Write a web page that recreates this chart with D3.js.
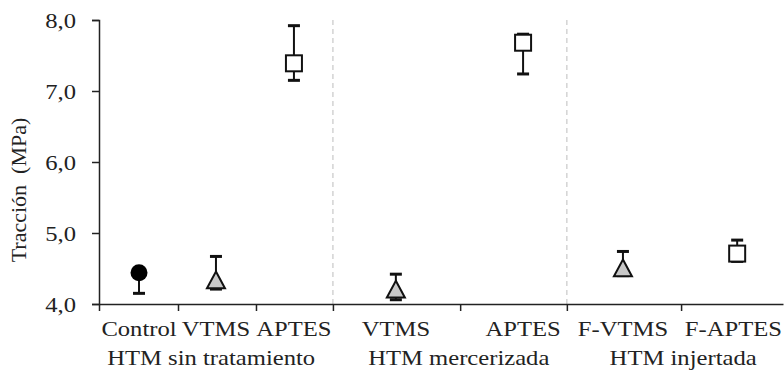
<!DOCTYPE html>
<html><head><meta charset="utf-8">
<script src="https://cdn.jsdelivr.net/npm/d3@7"></script>
<style>body{margin:0;background:#fff}svg{display:block}</style>
</head><body><svg id="c" width="784" height="376"></svg>
<script>
// Data
const categories = ["Control","VTMS","APTES","VTMS","APTES","F-VTMS","F-APTES"];
const xPos = [5.85, 17.1, 28.5, 43.4, 62.0, 76.6, 93.3];      // category positions on x (chart units 0-100)
const values = [4.44, 4.33, 7.39, 4.20, 7.68, 4.50, 4.71];
const lower  = [4.15, 4.21, 7.15, 4.06, 7.24, 4.40, 4.60];
const upper  = [4.44, 4.67, 7.92, 4.42, 7.80, 4.74, 4.90];
const shapes = ["circle","triangle","square","triangle","square","triangle","square"];
const groups = ["HTM sin tratamiento","HTM mercerizada","HTM injertada"];
const groupPos = [16.4, 52.6, 85.4];
const tickBounds = [0, 11.55, 22.95, 34.2, 52.8, 68.4, 85.1];
const separators = [34.2, 68.4];
const yTicks = [4,5,6,7,8];
const yLabel = "Tracción  (MPa)";

const FONT = "Liberation Serif";
const SX = 1.12; // horizontal stretch of the text in the source image
const W = 784;
const svg = d3.select("#c");
const x = d3.scaleLinear().domain([0,100]).range([99,783]);
const y = d3.scaleLinear().domain([4,8]).range([304,20]);

// separators
svg.selectAll("line.sep").data(separators).join("line")
  .attr("x1", d=>x(d)).attr("x2", d=>x(d)).attr("y1", y(8)).attr("y2", y(4))
  .attr("stroke","#c8c8c8").attr("stroke-width",1.2).attr("stroke-dasharray","5,4");

// y axis
const ya = svg.append("g").attr("transform",`translate(${x(0)},0)`)
  .call(d3.axisLeft(y).tickValues(yTicks).tickSize(7).tickFormat(d=>d3.format(".1f")(d).replace(".",",")));
ya.attr("font-family",FONT).attr("font-size",22);
ya.select(".domain").attr("stroke","#222").attr("stroke-width",1.5);
ya.selectAll(".tick line").attr("stroke","#222").attr("stroke-width",1.5);
ya.selectAll(".tick text").attr("x",-23/SX).attr("dy","0.34em").attr("fill","#222").attr("transform",`scale(${SX},1)`);

// x axis
const xa = svg.append("g").attr("transform",`translate(0,${y(4)})`)
  .call(d3.axisBottom(x).tickValues(tickBounds).tickSize(7).tickFormat("").tickSizeOuter(0));
xa.select(".domain").attr("stroke","#222").attr("stroke-width",1.5);
xa.selectAll(".tick line").attr("stroke","#222").attr("stroke-width",1.5);

// labels (kept inside the picture)
function placeLabels(cls, data, pos, yy){
  svg.selectAll("text."+cls).data(data).join("text").attr("class",cls)
    .attr("font-family",FONT).attr("fill","#222").attr("font-size",22).attr("text-anchor","middle")
    .text(d=>d)
    .attr("transform",function(d,i){
      const half = this.getComputedTextLength()*SX/2;
      const cx = Math.min(x(pos[i]), W - 2 - half);
      return `translate(${cx},${yy}) scale(${SX},1)`;
    });
}
placeLabels("cat", categories, xPos, 336);
placeLabels("grp", groups, groupPos, 365);

// y label
svg.append("text").attr("transform",`translate(26,190) rotate(-90)`).attr("text-anchor","middle")
  .attr("font-family",FONT).attr("fill","#222")
  .attr("font-size",22).style("white-space","pre").text(yLabel);

// error bars
const eb = svg.append("g");
categories.forEach((c,i)=>{
  const cx = x(xPos[i]);
  eb.append("line").attr("x1",cx).attr("x2",cx).attr("y1",y(lower[i])).attr("y2",y(upper[i])).attr("stroke","#111").attr("stroke-width",2);
  [lower[i],upper[i]].forEach(v=>{
    eb.append("line").attr("x1",cx-6).attr("x2",cx+6).attr("y1",y(v)).attr("y2",y(v)).attr("stroke","#111").attr("stroke-width",3);
  });
});

// markers
const mk = svg.append("g");
categories.forEach((c,i)=>{
  const cx = x(xPos[i]), cy = y(values[i]);
  if(shapes[i]==="circle"){
    mk.append("circle").attr("cx",cx).attr("cy",cy).attr("r",8.5).attr("fill","#000");
  } else if(shapes[i]==="square"){
    mk.append("rect").attr("x",cx-8).attr("y",cy-8).attr("width",16).attr("height",16).attr("fill","#fff").attr("stroke","#111").attr("stroke-width",2);
  } else {
    const s=9;
    mk.append("path").attr("d",`M${cx},${cy-s}L${cx+s},${cy+s*0.85}L${cx-s},${cy+s*0.85}Z`).attr("fill","#c8c8c8").attr("stroke","#111").attr("stroke-width",2);
  }
});
</script></body></html>
